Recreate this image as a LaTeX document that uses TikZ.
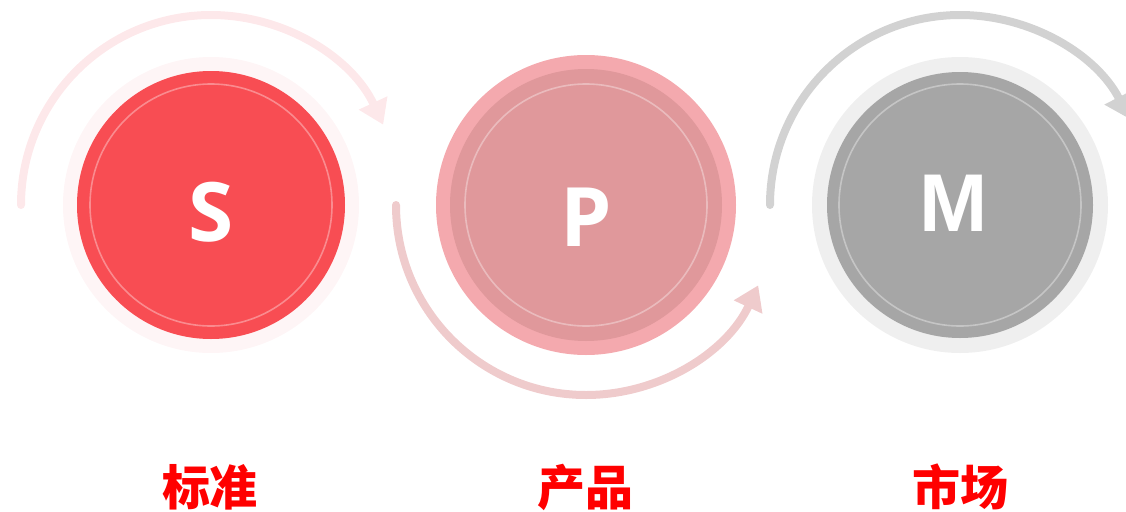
\documentclass[tikz,border=0pt]{standalone}
\usepackage{fontspec}
\usepackage{tikz}
\usetikzlibrary{positioning,arrows.meta}
\usepackage{xcolor}

\newfontfamily\letterfont{Open Sans}
\newfontfamily\arialfont{Liberation Sans}
\newfontfamily\cjkfont{Noto Sans CJK SC}

\definecolor{shalo}{HTML}{FEF5F6}
\definecolor{sfill}{HTML}{F84D53}
\definecolor{sarc}{HTML}{FDE8EA}
\definecolor{pband}{HTML}{F4A9AE}
\definecolor{pfill}{HTML}{E0989B}
\definecolor{parc}{HTML}{EFCBCC}
\definecolor{mhalo}{HTML}{EFEFEF}
\definecolor{mfill}{HTML}{A6A6A6}
\definecolor{marc}{HTML}{D2D2D2}
\definecolor{capred}{HTML}{FF0000}

\tikzset{
	disk/.style={circle, inner sep=0pt, minimum size=#1},
	ring/.style={line width=0.8pt, opacity=0.35, white},
	letter/.style={text=white, font=\letterfont\bfseries\fontsize{41}{41}\selectfont},
	looparc/.style={line width=4pt, line cap=round, -{Triangle[length=12pt, width=15pt]}},
	caption/.style={text=capred, font=\cjkfont\bfseries\fontsize{24}{24}\selectfont}
}

\begin{document}
\begin{tikzpicture}[x=0.5pt, y=0.5pt]
		\useasboundingbox (0,0) rectangle (1126,511);
		\clip (0,0) rectangle (1126,511);

		% Circle centres
		\coordinate (s-c) at (211,306);
		\coordinate (p-c) at (586,306);
		\coordinate (m-c) at (960,306);

		% Arcs
		\draw[looparc, sarc] ([shift={(180:95pt)}]s-c) arc[start angle=180, end angle=25, radius=95pt];
		\draw[looparc, parc] ([shift={(180:95pt)}]p-c) arc[start angle=180, end angle=335, radius=95pt];
		\draw[looparc, marc] ([shift={(180:95pt)}]m-c) arc[start angle=180, end angle=27, radius=95pt];

		% S
		\node[disk=148pt, fill=shalo] (s-halo) at (s-c) {};
		\node[disk=134pt, fill=sfill] (s) at (s-c) {};
		\draw[ring] (s) circle (121);
		\node[letter] (s-text) at ([yshift=-3.5pt]s.center) {S};

		% P
		\node[disk=150pt, fill=pband] (p-halo) at (p-c) {};
		\node[disk=136pt, fill=pfill] (p) at (p-c) {};
		\draw[ring] (p) circle (121);
		\node[letter] (p-text) at ([yshift=-6pt]p.center) {P};

		% M
		\node[disk=148pt, fill=mhalo] (m-halo) at (m-c) {};
		\node[disk=133pt, fill=mfill] (m) at (m-c) {};
		\draw[ring] (m) circle (121);
		\node[letter, font=\arialfont\bfseries\fontsize{41}{41}\selectfont] (m-text) at ([xshift=-3pt, yshift=1pt]m.center) {M};

		% Captions
		\node[caption] (s-cap) at (210,24) {标准};
		\node[caption] (p-cap) at (585,24) {产品};
		\node[caption] (m-cap) at (960,24) {市场};
	\end{tikzpicture}
\end{document}
